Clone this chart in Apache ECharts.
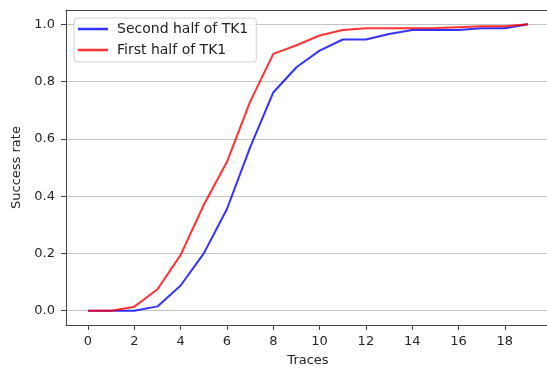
<!DOCTYPE html>
<html><head><meta charset="utf-8">
<script src="https://cdn.jsdelivr.net/npm/echarts@6/dist/echarts.min.js"></script>
<style>html,body{margin:0;padding:0;background:#fff}#c{width:547px;height:368px}</style>
</head><body><div id="c"></div>
<script>
const traces = [0,1,2,3,4,5,6,7,8,9,10,11,12,13,14,15,16,17,18,19];
const secondHalf = [0,0,0,0.015,0.088,0.2,0.355,0.57,0.762,0.85,0.908,0.947,0.947,0.966,0.98,0.98,0.98,0.986,0.986,1.0];
const firstHalf  = [0,0,0.014,0.075,0.195,0.37,0.52,0.73,0.897,0.927,0.961,0.98,0.986,0.986,0.986,0.987,0.99,0.993,0.993,1.0];
const xTicks = [0,2,4,6,8,10,12,14,16,18];
const yTicks = [0,0.2,0.4,0.6,0.8,1.0];
const seriesNames = ['Second half of TK1','First half of TK1'];
const FONT = 'DejaVu Sans';

const chart = echarts.init(document.getElementById('c'), null, {renderer:'canvas'});
chart.setOption({
  animation:false,
  backgroundColor:'#fff',
  grid:{left:66, top:10, width:484, height:315, containLabel:false, outerBoundsMode:'none'},
  legend:{
    left:74, top:18, orient:'vertical',
    data:[{name:seriesNames[0], icon:'rect'},{name:seriesNames[1], icon:'rect'}],
    itemWidth:30, itemHeight:2.5, itemGap:7,
    padding:[4,8,5,4],
    backgroundColor:'rgba(255,255,255,0.8)',
    borderColor:'#d0d0d0', borderWidth:1, borderRadius:3,
    textStyle:{fontFamily:FONT, fontSize:14, color:'#222', padding:[0,0,0,4]}
  },
  xAxis:[{
    type:'value', min:-0.95, max:19.95,
    name:'Traces', nameLocation:'middle', nameGap:29,
    nameTextStyle:{fontFamily:FONT, fontSize:13, color:'#262626'},
    axisLine:{show:true, onZero:false, lineStyle:{color:'#444', width:1}},
    axisTick:{show:true, length:5, customValues:xTicks, lineStyle:{color:'#444'}},
    axisLabel:{customValues:xTicks, margin:10, fontFamily:FONT, fontSize:13, color:'#262626'},
    splitLine:{show:false}
  },{
    type:'value', position:'top', min:-0.95, max:19.95,
    axisLine:{show:true, onZero:false, lineStyle:{color:'#444', width:1}},
    axisTick:{show:false}, axisLabel:{show:false}, splitLine:{show:false}
  }],
  yAxis:{
    type:'value', min:-0.05, max:1.05,
    name:'Success rate', nameLocation:'middle', nameGap:42,
    nameTextStyle:{fontFamily:FONT, fontSize:13, color:'#262626'},
    axisLine:{show:true, onZero:false, lineStyle:{color:'#444', width:1}},
    axisTick:{show:true, length:5, customValues:yTicks, lineStyle:{color:'#444'}},
    axisLabel:{customValues:yTicks, margin:11, fontFamily:FONT, fontSize:13, color:'#262626',
      formatter:v=>v.toFixed(1)},
    splitLine:{show:true, lineStyle:{color:'#c4c4c4', width:1}}
  },
  series:[
    {name:seriesNames[0], type:'line', xAxisIndex:0, data:traces.map((t,i)=>[t,secondHalf[i]]),
     showSymbol:false, symbol:'none', lineStyle:{color:'rgba(0,0,255,0.8)', width:2}, itemStyle:{color:'rgba(0,0,255,0.8)'}},
    {name:seriesNames[1], type:'line', xAxisIndex:0, data:traces.map((t,i)=>[t,firstHalf[i]]),
     showSymbol:false, symbol:'none', lineStyle:{color:'rgba(255,0,0,0.8)', width:2}, itemStyle:{color:'rgba(255,0,0,0.8)'}}
  ]
});
</script></body></html>
